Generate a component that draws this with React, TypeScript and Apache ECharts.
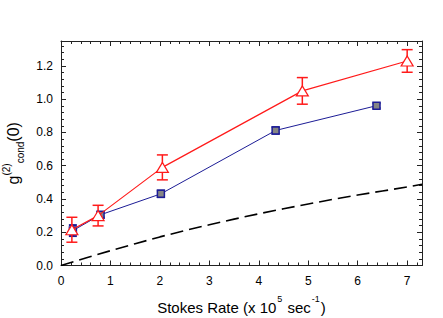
import React, { useEffect, useRef } from "react";
import * as echarts from "echarts";

const redX = [0.22, 0.75, 2.05, 4.88, 7.0];
const redY = [0.215, 0.3, 0.59, 1.05, 1.23];
const redErr = [0.075, 0.062, 0.075, 0.08, 0.068];

const blueX = [0.24, 0.8, 2.02, 4.34, 6.38];
const blueY = [0.21, 0.305, 0.431, 0.812, 0.961];
const blueErr = [0.033, 0.016, 0.02, 0.02, 0.015];

const theoryX = [0, 0.5, 1, 1.5, 2, 2.5, 3, 3.5, 4, 4.5, 5, 5.5, 6, 6.5, 7, 7.3];
const theoryY = [0, 0.045, 0.089, 0.131, 0.172, 0.21, 0.245, 0.279, 0.311, 0.341, 0.37, 0.398, 0.424, 0.448, 0.472, 0.489];

const xTicks = [0, 1, 2, 3, 4, 5, 6, 7];
const yTicks = [0, 0.2, 0.4, 0.6, 0.8, 1.0, 1.2];

const FONT = "Liberation Sans, Arial, sans-serif";
const RED = "#ff1a1a";
const NAVY = "#1c1c96";

function errSeries(xs: number[], ys: number[], es: number[], color: string, lw: number, hw: number) {
  return {
    type: "custom",
    z: 2,
    data: xs.map((x, i) => [x, ys[i], es[i]]),
    encode: { x: 0, y: 1 },
    renderItem: (params: any, api: any) => {
      const x = api.value(0);
      const y = api.value(1);
      const e = api.value(2);
      const t = api.coord([x, y + e]);
      const b = api.coord([x, y - e]);
      const st = { stroke: color, lineWidth: lw };
      return {
        type: "group",
        children: [
          { type: "line", shape: { x1: t[0], y1: t[1], x2: b[0], y2: b[1] }, style: st },
          { type: "line", shape: { x1: t[0] - hw, y1: t[1], x2: t[0] + hw, y2: t[1] }, style: st },
          { type: "line", shape: { x1: b[0] - hw, y1: b[1], x2: b[0] + hw, y2: b[1] }, style: st },
        ],
      };
    },
  };
}

export default function App() {
  const ref = useRef<HTMLDivElement>(null);
  useEffect(() => {
    if (!ref.current) return;
    const chart = echarts.init(ref.current, null, { renderer: "svg" });
    const axisCommon = {
      axisLine: { show: true, onZero: false, lineStyle: { color: "#222", width: 1 } },
      axisTick: { show: true, inside: true, length: 5, lineStyle: { color: "#222" } },
      minorTick: { show: true, splitNumber: 5, length: 3, lineStyle: { color: "#222" } },
      splitLine: { show: false },
      minorSplitLine: { show: false },
    };
    chart.setOption({
      animation: false,
      backgroundColor: "#fff",
      grid: { left: 61, right: 21, top: 41, bottom: 52.5, containLabel: false, outerBoundsMode: "none" },
      xAxis: [
        {
          type: "value",
          min: 0,
          max: 7.3,
          interval: 1,
          position: "bottom",
          ...axisCommon,
          axisLabel: {
            margin: 9,
            fontSize: 12,
            fontFamily: FONT,
            color: "#000",
            showMaxLabel: false,
            formatter: (v: number) => (xTicks.includes(v) ? String(v) : ""),
          },
          name: "{m|Stokes Rate (x 10}{s|5}{m| sec}{s|-1}{m|)}",
          nameLocation: "middle",
          nameGap: 29,
          nameTextStyle: {
            rich: {
              m: { fontSize: 15, fontFamily: FONT, color: "#000", lineHeight: 20, verticalAlign: "bottom" },
              s: { fontSize: 9, fontFamily: FONT, color: "#000", lineHeight: 20, verticalAlign: "top", padding: [0, 1, 0, 1] },
            },
          },
        },
        {
          type: "value",
          min: 0,
          max: 7.3,
          interval: 1,
          position: "top",
          ...axisCommon,
          axisLabel: { show: false },
        },
      ],
      yAxis: [
        {
          type: "value",
          min: 0,
          max: 1.35,
          interval: 0.2,
          position: "left",
          ...axisCommon,
          axisLabel: {
            margin: 8,
            fontSize: 12,
            fontFamily: FONT,
            color: "#000",
            showMaxLabel: false,
            formatter: (v: number) =>
              yTicks.some((t) => Math.abs(t - v) < 1e-6) ? v.toFixed(1) : "",
          },
          name: "{m|g}{s|(2)}{b|cond}{m|(0)}",
          nameLocation: "middle",
          nameRotate: 90,
          nameGap: 36,
          nameTextStyle: {
            rich: {
              m: { fontSize: 16, fontFamily: FONT, color: "#000", lineHeight: 24, verticalAlign: "middle" },
              s: { fontSize: 10, fontFamily: FONT, color: "#000", lineHeight: 24, verticalAlign: "top" },
              b: { fontSize: 10, fontFamily: FONT, color: "#000", lineHeight: 24, verticalAlign: "bottom" },
            },
          },
        },
        {
          type: "value",
          min: 0,
          max: 1.35,
          interval: 0.2,
          position: "right",
          ...axisCommon,
          axisLabel: { show: false },
        },
      ],
      series: [
        {
          type: "line",
          z: 1,
          data: theoryX.map((x, i) => [x, theoryY[i]]),
          symbol: "none",
          lineStyle: { color: "#000", width: 1.6, type: [13, 6] },
        },
        errSeries(blueX, blueY, blueErr, NAVY, 2, 4),
        errSeries(redX, redY, redErr, RED, 1.5, 5.5),
        {
          type: "line",
          z: 3,
          data: blueX.map((x, i) => [x, blueY[i]]),
          symbol: "rect",
          symbolSize: 7,
          itemStyle: { color: "#858585", borderColor: NAVY, borderWidth: 1.5 },
          lineStyle: { color: NAVY, width: 1 },
        },
        {
          type: "line",
          z: 4,
          data: redX.map((x, i) => [x, redY[i]]),
          symbol: "triangle",
          symbolSize: [12, 10],
          itemStyle: { color: "#fff", borderColor: RED, borderWidth: 1.2 },
          lineStyle: { color: RED, width: 1.2 },
        },
      ],
    });
    return () => chart.dispose();
  }, []);
  return (
    <div
      ref={ref}
      style={{ position: "fixed", left: 0, top: 0, width: 443, height: 318 }}
    />
  );
}
